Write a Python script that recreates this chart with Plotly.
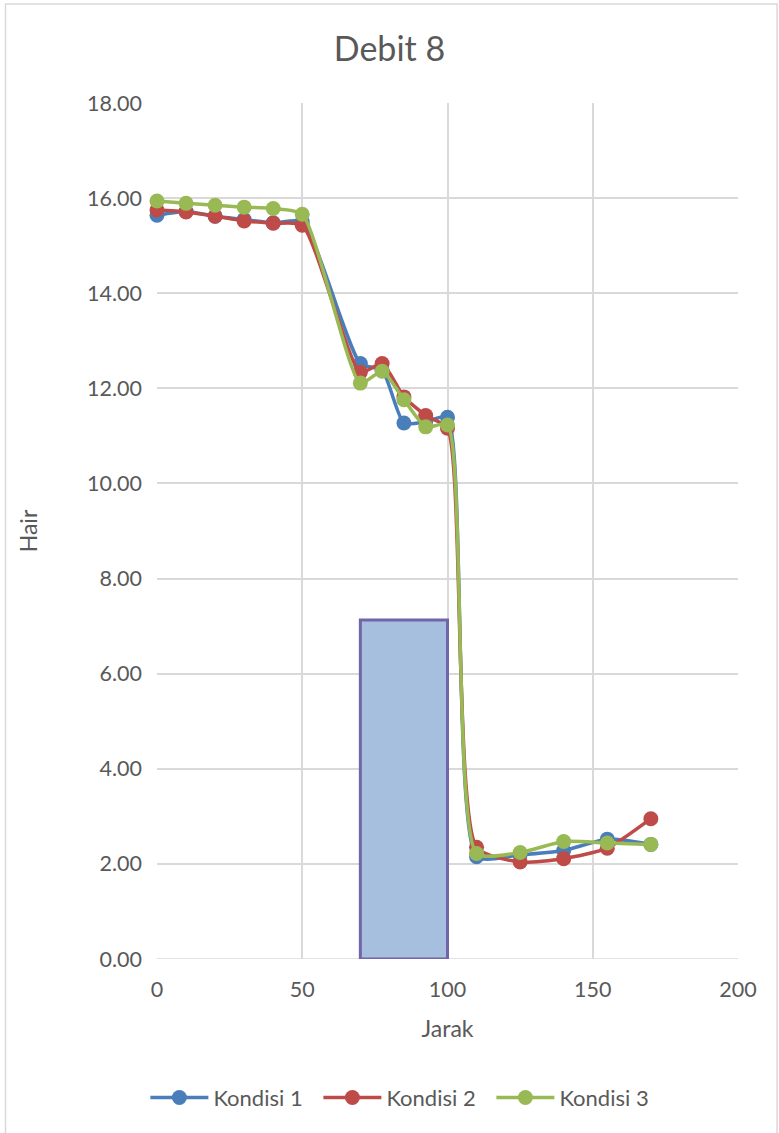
import plotly.graph_objects as go

# Distance along the channel (Jarak) and water depth (Hair) for each condition
jarak = [0, 10, 20, 30, 40, 50, 70, 77.5, 85, 92.5, 100, 110, 125, 140, 155, 170]
kondisi_1 = [15.64, 15.72, 15.62, 15.55, 15.48, 15.50, 12.52, 12.38, 11.27, 11.30, 11.39,
             2.15, 2.19, 2.28, 2.52, 2.41]
kondisi_2 = [15.75, 15.71, 15.62, 15.52, 15.47, 15.43, 12.34, 12.52, 11.82, 11.43, 11.16,
             2.35, 2.04, 2.11, 2.33, 2.95]
kondisi_3 = [15.94, 15.89, 15.85, 15.81, 15.78, 15.66, 12.11, 12.36, 11.76, 11.19, 11.23,
             2.22, 2.24, 2.47, 2.44, 2.41]

# Weir block drawn as a single wide bar
weir_start = 70
weir_end = 100
weir_height = 7.13

series = [
    ("Kondisi 1", kondisi_1, "#4A7EBB"),
    ("Kondisi 2", kondisi_2, "#BE4B48"),
    ("Kondisi 3", kondisi_3, "#98B954"),
]

FONT = "Lato, Open Sans, sans-serif"
tick_font = dict(family=FONT, size=21.5, color="#595959")
title_font = dict(family=FONT, size=23, color="#595959")

fig = go.Figure()

fig.add_trace(go.Bar(
    x=[(weir_start + weir_end) / 2],
    y=[weir_height],
    width=[weir_end - weir_start],
    marker=dict(color="#A7BFDE", line=dict(color="#7064AA", width=3)),
    showlegend=False,
    hoverinfo="skip",
))

for name, vals, color in series:
    fig.add_trace(go.Scatter(
        x=jarak, y=vals, name=name,
        mode="lines+markers",
        line=dict(color=color, width=3.5, shape="spline", smoothing=0.6),
        marker=dict(color=color, size=15),
        cliponaxis=False,
    ))

fig.update_layout(
    width=779, height=1133,
    margin=dict(l=157, r=41, t=103, b=174),
    paper_bgcolor="white",
    plot_bgcolor="white",
    title=dict(text="Debit 8", x=0.5, xanchor="center", y=0.957, yanchor="middle",
               font=dict(family=FONT, size=34, color="#595959")),
    font=tick_font,
    showlegend=True,
    legend=dict(orientation="h", x=-0.02, xanchor="left", y=-0.162, yanchor="middle",
                font=dict(family=FONT, size=22, color="#595959"),
                itemwidth=58, entrywidth=100),
    shapes=[dict(type="rect", xref="paper", yref="paper",
                 x0=-0.2608, x1=1.0672, y0=-0.215, y1=1.1157,
                 line=dict(color="#D9D9D9", width=1.5), layer="below")],
)

fig.update_xaxes(
    range=[0, 200], tickvals=[0, 50, 100, 150, 200],
    showgrid=True, gridcolor="#D9D9D9", gridwidth=1.5,
    zeroline=False, showline=False,
    title=dict(text="Jarak", font=title_font, standoff=20),
    tickfont=tick_font, ticks="", ticklabelstandoff=15,
)
fig.update_yaxes(
    range=[0, 18], tickvals=list(range(0, 19, 2)), tickformat=".2f",
    showgrid=True, gridcolor="#D9D9D9", gridwidth=1.5,
    zeroline=False, showline=False,
    title=dict(text="Hair", font=title_font, standoff=42),
    tickfont=tick_font, ticks="", ticklabelstandoff=14,
)
fig.add_shape(type="line", xref="paper", yref="y", x0=0, x1=1, y0=0, y1=0,
              line=dict(color="#D9D9D9", width=1.5), layer="below")

fig.write_html("out.html")
